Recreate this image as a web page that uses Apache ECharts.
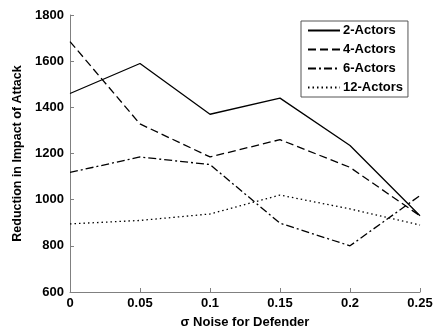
<!DOCTYPE html>
<html>
<head>
    <meta charset="UTF-8">
    <script type="text/javascript" src="https://cdn.jsdelivr.net/npm/echarts@6/dist/echarts.min.js"></script>
    <style type="text/css">
        *{ margin: 0; padding: 0; }
        body{ background: #fff; }
        #main{ width: 438px; height: 329px; }
    </style>
</head>
<body>
<div id="main"></div>
<script type="text/javascript">
    // sigma noise values (x axis)
    var noise = [0, 0.05, 0.1, 0.15, 0.2, 0.25];
    var actors2 = [1460, 1590, 1370, 1440, 1235, 930];
    var actors4 = [1685, 1328, 1185, 1260, 1140, 930];
    var actors6 = [1118, 1185, 1152, 898, 800, 1018];
    var actors12 = [895, 910, 938, 1020, 960, 890];
    var yTicks = [600, 800, 1000, 1200, 1400, 1600, 1800];

    function pairs(vals) {
        return noise.map(function (x, i) { return [x, vals[i]]; });
    }

    function line(name, vals, dash) {
        return {
            name: name,
            type: 'line',
            data: pairs(vals),
            symbol: 'none',
            lineStyle: { color: '#000', width: 1.3, type: dash },
            itemStyle: { color: '#000' }
        };
    }

    var font = 'Liberation Sans, Arial, sans-serif';
    var myChart = echarts.init(document.getElementById('main'));
    var option = {
        animation: false,
        grid: { left: 70, right: 18, top: 15, bottom: 37, containLabel: false, outerBoundsMode: 'none' },
        legend: {
            left: 301, top: 21,
            orient: 'vertical',
            padding: [3, 5, 3, 6],
            itemGap: 6,
            itemWidth: 32,
            itemHeight: 14,
            borderColor: '#555',
            borderWidth: 1,
            backgroundColor: '#fff',
            itemStyle: { opacity: 0, borderWidth: 0 },
            textStyle: { fontFamily: font, fontWeight: 'bold', fontSize: 13, color: '#000', padding: [0, 0, 0, -2] },
            data: ['2-Actors', '4-Actors', '6-Actors', '12-Actors']
        },
        xAxis: {
            type: 'value',
            min: 0, max: 0.25, interval: 0.05,
            name: '\u03c3 Noise for Defender',
            nameLocation: 'middle',
            nameGap: 24,
            nameTextStyle: { fontFamily: font, fontWeight: 'bold', fontSize: 13, color: '#000' },
            axisLine: { lineStyle: { color: '#808080', width: 1 } },
            axisTick: { inside: true, length: 4, lineStyle: { color: '#808080' } },
            axisLabel: { margin: 5, fontFamily: font, fontWeight: 'bold', fontSize: 13, color: '#000',
                formatter: function (v) { return String(+v.toFixed(2)); } },
            splitLine: { show: false }
        },
        yAxis: {
            type: 'value',
            min: yTicks[0], max: yTicks[yTicks.length - 1], interval: 200,
            name: 'Reduction in Impact of Attack',
            nameLocation: 'middle',
            nameGap: 38,
            nameTextStyle: { fontFamily: font, fontWeight: 'bold', fontSize: 12.5, color: '#000' },
            axisLine: { show: true, lineStyle: { color: '#808080', width: 1 } },
            axisTick: { show: true, inside: true, length: 4, lineStyle: { color: '#808080' } },
            axisLabel: { margin: 6, fontFamily: font, fontWeight: 'bold', fontSize: 13, color: '#000',
                formatter: function (v) { return String(v); } },
            splitLine: { show: false }
        },
        series: [
            line('2-Actors', actors2, 'solid'),
            line('4-Actors', actors4, [8, 4]),
            line('6-Actors', actors6, [8, 3, 2, 3]),
            line('12-Actors', actors12, [1.5, 3])
        ]
    };
    myChart.setOption(option);
</script>
</body>
</html>
